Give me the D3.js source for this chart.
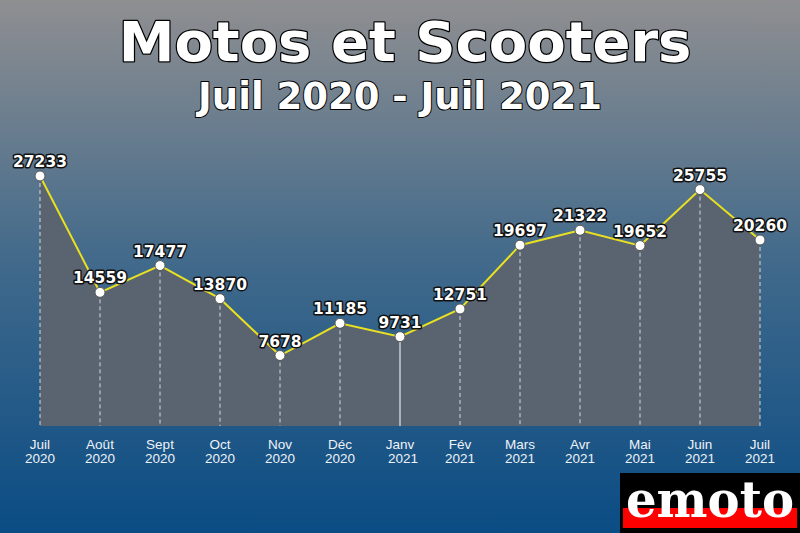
<!DOCTYPE html>
<html><head><meta charset="utf-8">
<script src="https://cdn.jsdelivr.net/npm/d3@7/dist/d3.min.js"></script>
<style>html,body{margin:0;padding:0;overflow:hidden;background:#fff}svg{display:block}</style>
</head><body>
<script>
const months = ["Juil","Août","Sept","Oct","Nov","Déc","Janv","Fév","Mars","Avr","Mai","Juin","Juil"];
const years = ["2020","2020","2020","2020","2020","2020","2021","2021","2021","2021","2021","2021","2021"];
const values = [27233,14559,17477,13870,7678,11185,9731,12751,19697,21322,19652,25755,20260];
const title = "Motos et Scooters";
const subtitle = "Juil 2020 - Juil 2021";

const W = 800, H = 533;
const svg = d3.select("body").append("svg").attr("width", W).attr("height", H);
const defs = svg.append("defs");
const g = defs.append("linearGradient").attr("id","bg").attr("x1",0).attr("y1",0).attr("x2",0).attr("y2",1);
g.append("stop").attr("offset","0%").attr("stop-color","#8f8f91");
g.append("stop").attr("offset","50%").attr("stop-color","#40698b");
g.append("stop").attr("offset","100%").attr("stop-color","#0a4c84");
svg.append("rect").attr("width",W).attr("height",H).attr("fill","url(#bg)");

const x = d3.scalePoint().domain(d3.range(values.length)).range([40, 760]);
const y = d3.scaleLinear().domain([0, 27233]).range([426, 176]);

// area
const area = d3.area().x((d,i)=>x(i)).y0(y(0)).y1(d=>y(d));
svg.append("path").datum(values).attr("d", area).attr("fill", "#5a6370");

// vertical lines
svg.selectAll("line.v").data(values).enter().append("line")
  .attr("x1",(d,i)=>x(i)).attr("x2",(d,i)=>x(i))
  .attr("y1",d=>y(d)).attr("y2",y(0))
  .attr("stroke","#ffffff").attr("stroke-width",1)
  .attr("stroke-opacity",(d,i)=>months[i]==="Janv"?1:0.75)
  .attr("stroke-dasharray",(d,i)=>months[i]==="Janv"?null:"4,3");

// line
const line = d3.line().x((d,i)=>x(i)).y(d=>y(d));
svg.append("path").datum(values).attr("d", line).attr("fill","none")
  .attr("stroke","#e8e020").attr("stroke-width",2);

// points
svg.selectAll("circle").data(values).enter().append("circle")
  .attr("cx",(d,i)=>x(i)).attr("cy",d=>y(d)).attr("r",5)
  .attr("fill","#ffffff").attr("stroke","#555555").attr("stroke-width",1);

// value labels
svg.selectAll("text.val").data(values).enter().append("text")
  .attr("x",(d,i)=>x(i)).attr("y",d=>y(d)-9)
  .attr("text-anchor","middle")
  .attr("font-family","DejaVu Sans").attr("font-weight","bold").attr("font-size",15.5)
  .attr("fill","#ffffff").attr("stroke","#111111").attr("stroke-width",3)
  .attr("stroke-linejoin","round").attr("paint-order","stroke")
  .text(d=>d);

// x axis labels
const xl = svg.selectAll("text.xl").data(months).enter().append("text")
  .attr("text-anchor","middle")
  .attr("font-family","Liberation Sans, Arial, sans-serif").attr("font-size",13.5)
  .attr("fill","#eef2f7");
xl.append("tspan").attr("x",(d,i)=>x(i)).attr("y",448.5).text(d=>d);
xl.append("tspan").attr("x",(d,i)=>x(i)+(months[i]==="Janv"?3:0)).attr("y",462.5).text((d,i)=>years[i]);

// titles
svg.append("text").attr("x",405).attr("y",61).attr("text-anchor","middle")
  .attr("font-family","DejaVu Sans").attr("font-weight","bold").attr("font-size",56)
  .attr("fill","#ffffff").attr("stroke","#000000").attr("stroke-width",2.5)
  .attr("stroke-linejoin","round").attr("paint-order","stroke").text(title);
svg.append("text").attr("x",400).attr("y",109).attr("text-anchor","middle")
  .attr("font-family","DejaVu Sans").attr("font-weight","bold").attr("font-size",37)
  .attr("fill","#ffffff").attr("stroke","#000000").attr("stroke-width",2)
  .attr("stroke-linejoin","round").attr("paint-order","stroke").text(subtitle);

// logo
const logo = svg.append("g");
logo.append("rect").attr("x",620).attr("y",473).attr("width",180).attr("height",60).attr("fill","#000000");
logo.append("rect").attr("x",623).attr("y",508).attr("width",174).attr("height",20).attr("fill","#ff0000");
logo.append("text").attr("x",710).attr("y",517).attr("text-anchor","middle")
  .attr("font-family","DejaVu Serif").attr("font-weight","bold").attr("font-size",50)
  .attr("textLength",168).attr("lengthAdjust","spacingAndGlyphs")
  .attr("fill","#ffffff").text("emoto");
</script>
</body></html>
